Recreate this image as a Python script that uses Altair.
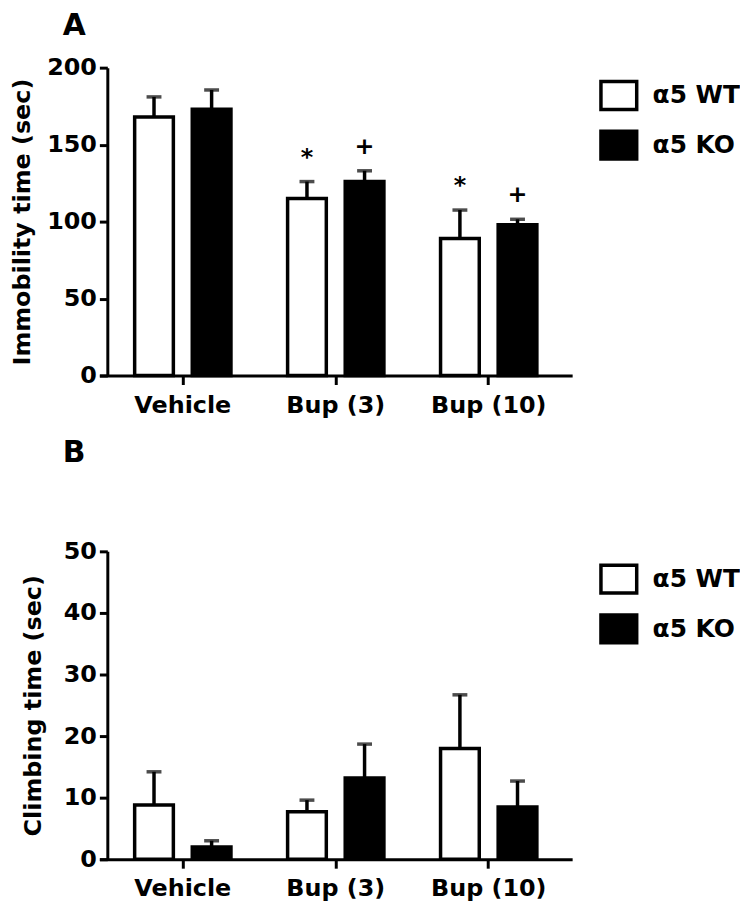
import altair as alt
import pandas as pd

categories = ["Vehicle", "Bup (3)", "Bup (10)"]
genotypes = ["α5 WT", "α5 KO"]

immobility_wt = [168, 115, 89]
immobility_wt_sem = [13, 11, 18.5]
immobility_ko = [173, 126, 98]
immobility_ko_sem = [12.5, 7, 3.5]
immobility_wt_marks = ["", "*", "*"]
immobility_ko_marks = ["", "+", "+"]

climbing_wt = [8.8, 7.7, 18.0]
climbing_wt_sem = [5.4, 1.9, 8.7]
climbing_ko = [2.0, 13.2, 8.5]
climbing_ko_sem = [1.0, 5.5, 4.2]
climbing_wt_marks = ["", "", ""]
climbing_ko_marks = ["", "", ""]

immobility_ticks = [0, 50, 100, 150, 200]
climbing_ticks = [0, 10, 20, 30, 40, 50]

FONT = "DejaVu Sans"


def make_df(wt, wt_sem, ko, ko_sem, wt_marks, ko_marks):
    rows = []
    for i, c in enumerate(categories):
        rows.append(dict(cat=c, geno=genotypes[0], val=wt[i], top=wt[i] + wt_sem[i], mark=wt_marks[i]))
        rows.append(dict(cat=c, geno=genotypes[1], val=ko[i], top=ko[i] + ko_sem[i], mark=ko_marks[i]))
    return pd.DataFrame(rows)


def panel(df, letter, ytitle, ymax, ticks, title_offset, title_padding):
    x = alt.X(
        "cat:N",
        sort=categories,
        scale=alt.Scale(paddingInner=0, paddingOuter=0.0455),
        axis=alt.Axis(
            title=None, labelAngle=0, labelFont=FONT, labelFontSize=24,
            labelFontWeight="bold", labelColor="black", tickSize=9, tickWidth=3,
            domainWidth=3, labelPadding=9, domainColor="black", tickColor="black",
        ),
    )
    xo = alt.XOffset("geno:N", sort=genotypes,
                     scale=alt.Scale(paddingInner=0.328, paddingOuter=0.4915))
    y_axis = alt.Axis(
        values=ticks, title=ytitle, offset=-8, grid=False,
        labelFont=FONT, labelFontSize=24, labelFontWeight="bold", labelColor="black",
        titleFont=FONT, titleFontSize=24, titleFontWeight="bold", titleColor="black",
        titlePadding=title_padding, tickSize=8, tickWidth=3, domainWidth=3,
        labelPadding=3, domainColor="black", tickColor="black",
    )
    yscale = alt.Scale(domain=[0, ymax], nice=False)
    bars = alt.Chart(df).mark_bar(stroke="black", strokeWidth=3.5).encode(
        x=x, xOffset=xo,
        y=alt.Y("val:Q", scale=yscale, axis=y_axis, title=ytitle),
        fill=alt.Fill(
            "geno:N",
            scale=alt.Scale(domain=genotypes, range=["white", "black"]),
            legend=alt.Legend(
                title=None, orient="none", legendX=503, legendY=8, padding=0,
                symbolType="M-1,-0.78H1V0.78H-1Z", symbolSize=1296,
                symbolStrokeColor="black", symbolStrokeWidth=3.5,
                labelFont=FONT, labelFontSize=25, labelFontWeight="bold",
                labelColor="black", labelOffset=14, rowPadding=6,
            ),
        ),
    )
    err = alt.Chart(df).mark_rule(color="black", strokeWidth=3.5).encode(
        x=x, xOffset=xo,
        y=alt.Y("val:Q", scale=yscale, title=ytitle), y2="top:Q",
    )
    caps = alt.Chart(df).mark_tick(color="black", thickness=3.5, size=15, orient="horizontal").encode(
        x=x, xOffset=xo, y=alt.Y("top:Q", scale=yscale, title=ytitle),
    )
    text = alt.Chart(df).mark_text(
        font=FONT, fontSize=24, fontWeight="bold", baseline="middle", dy=-24, color="black"
    ).encode(
        x=x, xOffset=xo, y=alt.Y("top:Q", scale=yscale, title=ytitle), text="mark:N",
    )
    return alt.layer(bars, err, caps, text).properties(
        width=476, height=310,
        view=alt.ViewBackground(stroke="transparent", strokeWidth=0),
        title=alt.TitleParams(
            text=letter, anchor="start", frame="group", dx=-37, fontSize=30,
            font=FONT, fontWeight="bold", color="black", offset=title_offset,
        ),
    )


dfA = make_df(immobility_wt, immobility_wt_sem, immobility_ko, immobility_ko_sem,
              immobility_wt_marks, immobility_ko_marks)
dfB = make_df(climbing_wt, climbing_wt_sem, climbing_ko, climbing_ko_sem,
              climbing_wt_marks, climbing_ko_marks)

pA = panel(dfA, "A", "Immobility time (sec)", 200, immobility_ticks, 13, 12)
pB = panel(dfB, "B", "Climbing time (sec)", 50, climbing_ticks, 72, 18)

chart = (
    alt.vconcat(pA, pB, spacing=21)
    .resolve_scale(fill="independent")
    .resolve_legend(fill="independent")
    .properties(padding={"left": 2, "top": 0, "right": 0, "bottom": 0})
    .configure_view(strokeWidth=0, stroke="transparent")
    .configure(background="white")
)

chart.save("out.html", embed_options={"renderer": "svg", "actions": False})
